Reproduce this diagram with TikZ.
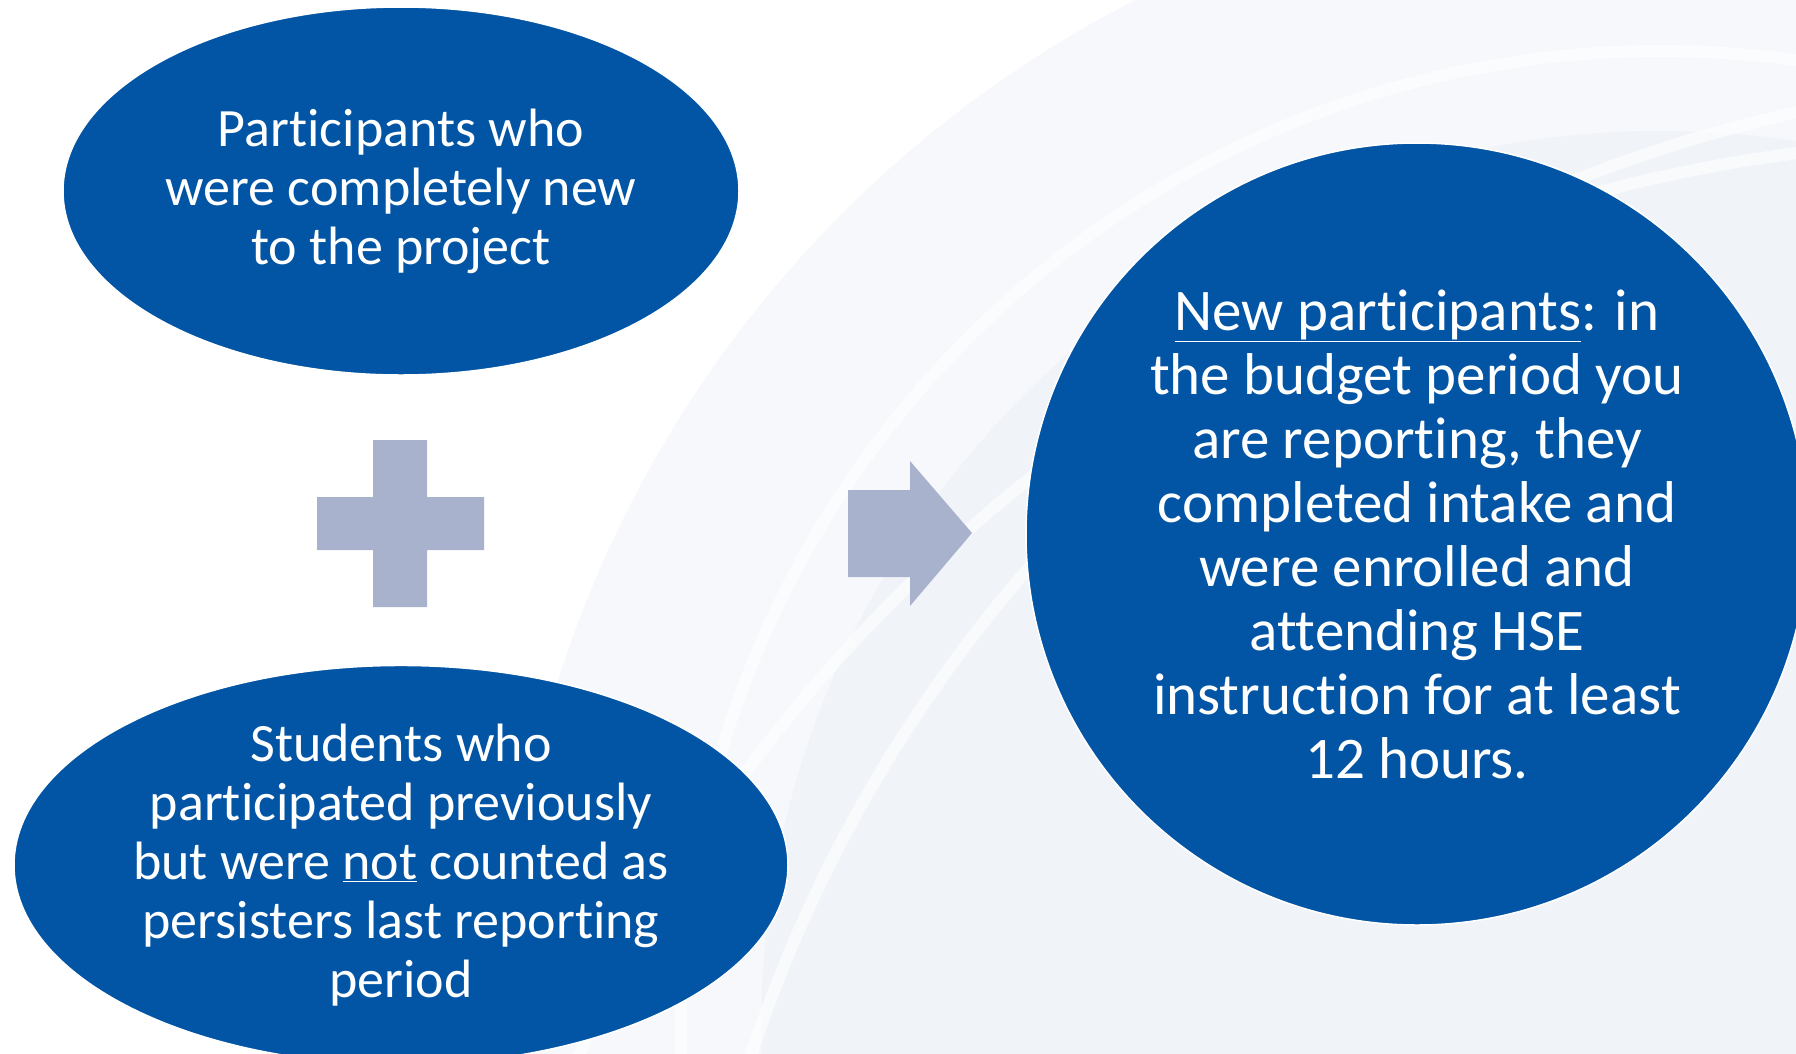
\documentclass[tikz,border=0pt]{standalone}
\usepackage{fontspec}
\setmainfont{Carlito}[Ligatures=NoCommon]
\usepackage{tikz}
\usetikzlibrary{shapes}
\usetikzlibrary{positioning}
\definecolor{setblue}{HTML}{0254A4}
\definecolor{signgray}{HTML}{A9B2CD}
\definecolor{bgtint}{HTML}{F7F8FB}
\definecolor{bgtintd}{HTML}{F0F3F8}
\tikzset{
    setnode/.style = {ellipse, fill=setblue, draw=white, line width=1.5pt, inner sep=0pt, text=white, align=center},
    leftfont/.style = {font=\fontsize{54}{59}\selectfont},
    rightfont/.style = {font=\fontsize{59}{64}\selectfont},
    signshape/.style = {fill=signgray, draw=none},
    bgband/.style = {draw=white, line width=12pt, opacity=0.6}
}

\begin{document}
\begin{tikzpicture}[x=1pt,y=-1pt]
\useasboundingbox (0,0) rectangle (1796,1053);
%
\fill[white] (0,0) rectangle (1796,1053);
\begin{scope}
\clip (0,0) rectangle (1796,1053);
\fill[bgtint] (1661,1031) circle (1157);
\fill[bgtintd] (1661,1031) circle (900);
\draw[bgband] (1661,1031) circle (980);
\draw[bgband] (2100,1500) circle (1420);
\draw[bgband] (2000,1700) circle (1560);
\end{scope}
%
\node[setnode, leftfont, minimum width=676pt, minimum height=368pt] at (401,191) (newp)
  {Participants who\\were completely new\\to the project};
\node[setnode, leftfont, minimum width=774pt, minimum height=390pt] at (401,865) (oldp)
  {Students who\\participated previously\\but were \underline{not} counted as\\persisters last reporting\\period};
\node[setnode, rightfont, circle, minimum size=782pt] at (1417,534) (defn)
  {\underline{New participants}: in\\the budget period you\\are reporting, they\\completed intake and\\were enrolled and\\attending HSE\\instruction for at least\\12 hours.};
%
% plus sign
\fill[signshape] (373,440) -- (427,440) -- (427,497) -- (484,497) -- (484,550) -- (427,550)
  -- (427,607) -- (373,607) -- (373,550) -- (317,550) -- (317,497) -- (373,497) -- cycle;
% arrow
\fill[signshape] (848,490) -- (910,490) -- (910,461) -- (972,533) -- (910,606) -- (910,577)
  -- (848,577) -- cycle;

\end{tikzpicture}
\end{document}
